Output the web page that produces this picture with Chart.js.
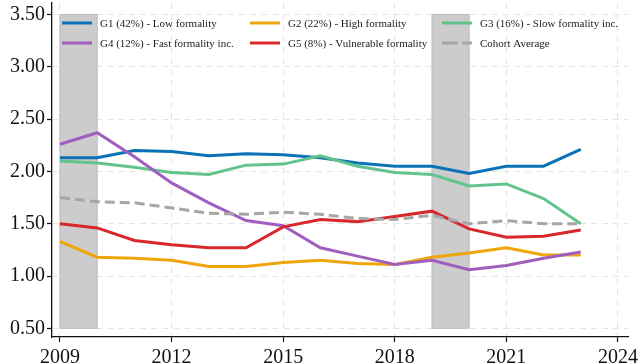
<!DOCTYPE html>
<html>
<head>
<meta charset="utf-8">
<script src="https://cdn.jsdelivr.net/npm/chart.js@4.4.1/dist/chart.umd.min.js"></script>
<style>
  html, body { margin: 0; padding: 0; background: #fff; }
  #wrap { width: 638px; height: 364px; position: relative; }
</style>
</head>
<body>
<div id="wrap"><canvas id="chart"></canvas></div>
<script>
// Years and group trajectories
const years = [2009, 2010, 2011, 2012, 2013, 2014, 2015, 2016, 2017, 2018, 2019, 2020, 2021, 2022, 2023];
const g1 = [2.13, 2.13, 2.20, 2.19, 2.15, 2.17, 2.16, 2.13, 2.08, 2.05, 2.05, 1.98, 2.05, 2.05, 2.21];
const g2 = [1.33, 1.18, 1.17, 1.15, 1.09, 1.09, 1.13, 1.15, 1.12, 1.11, 1.18, 1.22, 1.27, 1.20, 1.20];
const g3 = [2.10, 2.08, 2.04, 1.99, 1.97, 2.06, 2.07, 2.15, 2.05, 1.99, 1.97, 1.86, 1.88, 1.74, 1.50];
const g4 = [2.26, 2.37, 2.14, 1.89, 1.70, 1.53, 1.48, 1.27, 1.19, 1.11, 1.15, 1.06, 1.10, 1.17, 1.23];
const g5 = [1.50, 1.46, 1.34, 1.30, 1.27, 1.27, 1.47, 1.54, 1.52, 1.57, 1.62, 1.45, 1.37, 1.38, 1.44];
const cohortAvg = [1.75, 1.71, 1.70, 1.65, 1.60, 1.59, 1.61, 1.59, 1.55, 1.54, 1.58, 1.50, 1.53, 1.50, 1.50];

const seriesLabels = [
  'G1 (42%) - Low formality',
  'G2 (22%) - High formality',
  'G3 (16%) - Slow formality inc.',
  'G4 (12%) - Fast formality inc.',
  'G5 (8%) - Vulnerable formality',
  'Cohort Average'
];

// Shaded periods
const shadeStart = [2009, 2019];
const shadeEnd = [2010, 2020];
const shadeBottom = 0.5;
const shadeTop = 3.5;

const xTicks = [2009, 2012, 2015, 2018, 2021, 2024];
const yTicks = [0.5, 1.0, 1.5, 2.0, 2.5, 3.0, 3.5];

const colors = ['#0a72b6', '#eea60c', '#62c48c', '#a05fbf', '#d8282c', '#a6a6a6'];
const seriesData = [g1, g2, g3, g4, g5, cohortAvg];

const FONT = "'Liberation Serif', 'Times New Roman', serif";

const shadePlugin = {
  id: 'shade',
  beforeDatasetsDraw(chart) {
    const { ctx, scales: { x, y } } = chart;
    ctx.save();
    shadeStart.forEach((s, i) => {
      const x0 = x.getPixelForValue(s);
      const x1 = x.getPixelForValue(shadeEnd[i]);
      const y0 = y.getPixelForValue(shadeTop);
      const y1 = y.getPixelForValue(shadeBottom);
      ctx.fillStyle = '#cccccc';
      ctx.fillRect(x0, y0, x1 - x0, y1 - y0);
      ctx.strokeStyle = '#bdbdbd';
      ctx.lineWidth = 1;
      ctx.strokeRect(x0, y0, x1 - x0, y1 - y0);
    });
    ctx.restore();
  }
};

// Three-column legend placed inside the plot
const legendPlugin = {
  id: 'insideLegend',
  afterDraw(chart) {
    const { ctx } = chart;
    const colX = [62, 250, 442];
    const rowY = [23, 43];
    ctx.save();
    ctx.font = '11px ' + FONT;
    ctx.textBaseline = 'middle';
    chart.data.datasets.forEach((ds, i) => {
      const cx = colX[i % 3];
      const cy = rowY[Math.floor(i / 3)];
      ctx.strokeStyle = ds.borderColor;
      ctx.lineWidth = 3;
      ctx.setLineDash(ds.borderDash ? [16, 4] : []);
      ctx.beginPath();
      ctx.moveTo(cx, cy);
      ctx.lineTo(cx + 30, cy);
      ctx.stroke();
      ctx.setLineDash([]);
      ctx.fillStyle = '#222';
      ctx.fillText(ds.label, cx + 38, cy + 1);
    });
    ctx.restore();
  }
};

new Chart(document.getElementById('chart'), {
  type: 'line',
  data: {
    labels: years,
    datasets: seriesData.map((vals, i) => ({
      label: seriesLabels[i],
      data: vals.map((v, j) => ({ x: years[j], y: v })),
      borderColor: colors[i],
      backgroundColor: colors[i],
      borderWidth: 3,
      borderDash: i === 5 ? [10, 5] : undefined,
      pointRadius: 0,
      tension: 0,
      fill: false,
      order: 6 - i
    }))
  },
  options: {
    responsive: true,
    maintainAspectRatio: false,
    animation: false,
    layout: { padding: { top: 3, right: 10, left: 0, bottom: 0 } },
    plugins: {
      legend: { display: false },
      tooltip: { enabled: false }
    },
    scales: {
      x: {
        type: 'linear',
        min: 2008.785,
        max: 2024.27,
        afterBuildTicks(scale) { scale.ticks = xTicks.map(v => ({ value: v })); },
        afterFit(scale) {
          scale.height = 27;
          scale.paddingLeft = 0;
          scale.paddingRight = 0;
        },
        ticks: {
          font: { family: FONT, size: 20 },
          color: '#111',
          padding: 4,
          maxRotation: 0,
          callback: v => String(v)
        },
        grid: {
          color: '#e4e4e4',
          lineWidth: 1,
          tickColor: '#111',
          tickLength: 5,
          tickWidth: 1.2
        },
        border: { display: true, color: '#111', width: 1.3, dash: [6, 5] }
      },
      y: {
        min: 0.417,
        max: 3.61,
        afterBuildTicks(scale) { scale.ticks = yTicks.map(v => ({ value: v })); },
        afterFit(scale) {
          scale.width = 52;
          scale.paddingTop = 0;
          scale.paddingBottom = 0;
        },
        ticks: {
          font: { family: FONT, size: 20 },
          color: '#111',
          padding: 2,
          callback: v => v.toFixed(2)
        },
        grid: {
          color: '#e4e4e4',
          lineWidth: 1,
          tickColor: '#111',
          tickLength: 5,
          tickWidth: 1.2
        },
        border: { display: true, color: '#111', width: 1.3, dash: [6, 5] }
      }
    }
  },
  plugins: [shadePlugin, legendPlugin]
});
</script>
</body>
</html>
